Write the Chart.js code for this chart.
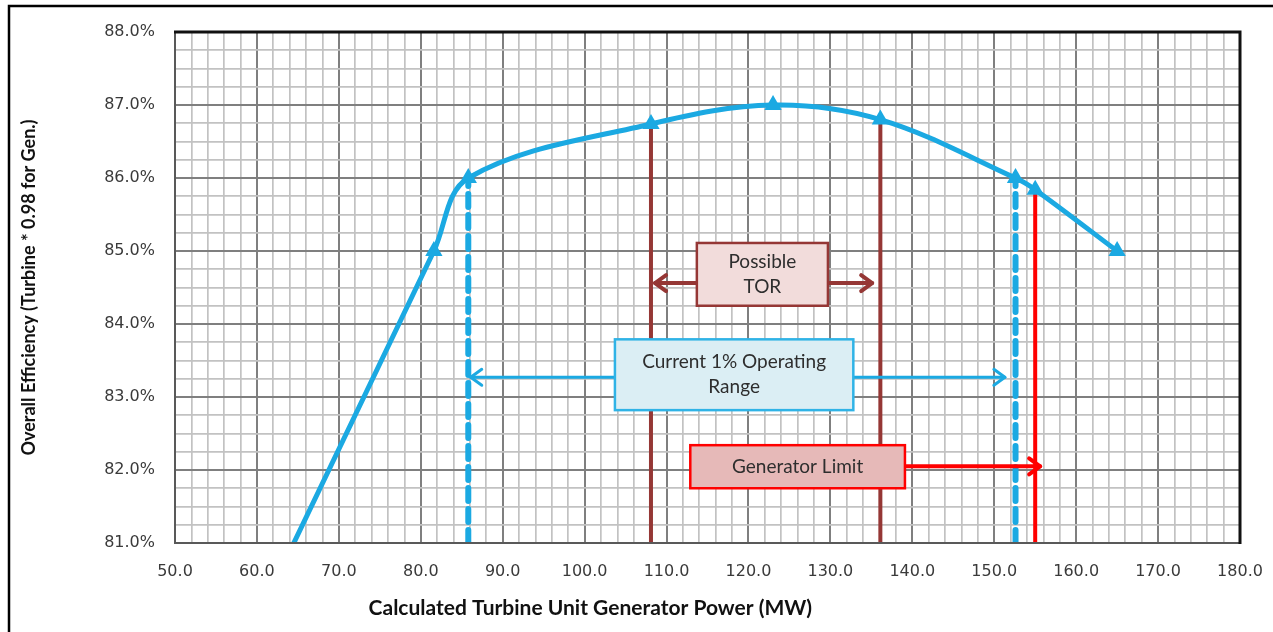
<!DOCTYPE html>
<html>
<head>
<meta charset="utf-8">
<script src="https://cdn.jsdelivr.net/npm/chart.js@4.4.1/dist/chart.umd.min.js"></script>
<style>
    html, body { margin: 0; padding: 0; background: #fff; }
    #wrap { position: relative; width: 1273px; height: 632px; }
</style>
</head>
<body>
<div id="wrap"><canvas id="myChart"></canvas></div>
<script>
// efficiency curve
const powerMW = [64.5, 81.6, 85.8, 108.1, 123.0, 136.1, 152.6, 155.0, 165.0];
const efficiency = [81.0, 85.0, 86.0, 86.74, 87.0, 86.8, 86.0, 85.84, 85.0];

// vertical marker lines (x in MW, top in %)
const rangeLowMW = 85.8, rangeLowTop = 86.0;
const rangeHighMW = 152.6, rangeHighTop = 86.0;
const torLowMW = 108.1, torLowTop = 86.74;
const torHighMW = 136.1, torHighTop = 86.8;
const genLimitMW = 155.0, genLimitTop = 85.84;

const torText = ['Possible', 'TOR'];
const rangeText = ['Current 1% Operating', 'Range'];
const genText = ['Generator Limit'];

const xTitle = 'Calculated Turbine Unit Generator Power (MW)';
const yTitle = 'Overall Efficiency (Turbine * 0.98 for Gen.)';

const BLUE = '#1ba9e2';
const BROWN = '#953735';
const RED = '#ff0000';

// callout boxes, placed in axis units
const notes = [
    { text: torText, x0: 113.7, x1: 129.7, y0: 85.11, y1: 84.25, fill: '#f2dcdb', border: BROWN,
      arrowY: 84.56, arrowWidth: 4, arrows: [[113.7, 108.6], [129.7, 135.1]] },
    { text: rangeText, x0: 103.7, x1: 132.8, y0: 83.79, y1: 82.82, fill: '#dbeef4', border: '#2fb3e6',
      arrowY: 83.27, arrowWidth: 3, arrowColor: BLUE, arrows: [[103.7, 86.1], [132.8, 151.3]] },
    { text: genText, x0: 112.9, x1: 139.1, y0: 82.34, y1: 81.75, fill: '#e6b9b8', border: RED,
      arrowY: 82.05, arrowWidth: 4, arrows: [[139.1, 155.6]] }
];

function vline(mw, top, color, dashed) {
    return {
        data: [{ x: mw, y: 81 }, { x: mw, y: top }],
        borderColor: color,
        borderWidth: dashed ? 6 : 4,
        borderDash: dashed ? [13, 8] : [],
        borderCapStyle: dashed ? 'round' : 'butt',
        pointRadius: 0,
        order: 2
    };
}

function drawArrow(ctx, x0, x1, y, color, width) {
    const dir = x1 > x0 ? 1 : -1;
    ctx.strokeStyle = color;
    ctx.lineWidth = width;
    ctx.beginPath();
    ctx.moveTo(x0, y);
    ctx.lineTo(x1, y);
    ctx.stroke();
    ctx.beginPath();
    ctx.moveTo(x1 - dir * 11, y - 8);
    ctx.lineTo(x1, y);
    ctx.lineTo(x1 - dir * 11, y + 8);
    ctx.stroke();
}

const calloutPlugin = {
    id: 'callouts',
    afterDatasetsDraw(chart) {
        const { ctx, scales: { x, y } } = chart;
        notes.forEach(function (n) {
            ctx.save();
            ctx.lineCap = 'round';
            ctx.lineJoin = 'round';
            const ay = y.getPixelForValue(n.arrowY);
            n.arrows.forEach(function (a) {
                drawArrow(ctx, x.getPixelForValue(a[0]), x.getPixelForValue(a[1]), ay, n.arrowColor || n.border, n.arrowWidth);
            });
            const l = x.getPixelForValue(n.x0), r = x.getPixelForValue(n.x1);
            const t = y.getPixelForValue(n.y0), b = y.getPixelForValue(n.y1);
            ctx.fillStyle = n.fill;
            ctx.fillRect(l, t, r - l, b - t);
            ctx.lineJoin = 'miter';
            ctx.strokeStyle = n.border;
            ctx.lineWidth = 2.5;
            ctx.strokeRect(l, t, r - l, b - t);
            ctx.fillStyle = '#2e2e2e';
            ctx.font = '19px Lato';
            ctx.textAlign = 'center';
            ctx.textBaseline = 'middle';
            const cy = (t + b) / 2 - (n.text.length - 1) * 12.5;
            n.text.forEach(function (line, i) {
                ctx.fillText(line, (l + r) / 2, cy + i * 25);
            });
            ctx.restore();
        });
    },
    afterDraw(chart) {
        const { ctx, chartArea: a, scales: { x } } = chart;
        ctx.save();
        // x axis title, sits left of the plot centre in the original
        ctx.fillStyle = '#111';
        ctx.font = 'bold 21px Lato';
        ctx.textAlign = 'center';
        ctx.textBaseline = 'middle';
        ctx.fillText(xTitle, a.left + (a.right - a.left) * 0.39, x.bottom - 18);
        // plot frame
        ctx.lineWidth = 2;
        ctx.strokeStyle = '#595959';
        ctx.beginPath();
        ctx.moveTo(a.left, a.top);
        ctx.lineTo(a.left, a.bottom);
        ctx.lineTo(a.right, a.bottom);
        ctx.stroke();
        ctx.lineWidth = 3;
        ctx.strokeStyle = '#111';
        ctx.beginPath();
        ctx.moveTo(a.left - 1, a.top);
        ctx.lineTo(a.right, a.top);
        ctx.lineTo(a.right, a.bottom + 1);
        ctx.stroke();
        // outer frame of the picture
        ctx.lineWidth = 2.5;
        ctx.strokeStyle = '#000';
        ctx.beginPath();
        ctx.moveTo(9, 632);
        ctx.lineTo(9, 6);
        ctx.lineTo(1273, 6);
        ctx.stroke();
        ctx.restore();
    }
};

const ctx = document.getElementById('myChart').getContext('2d');
const myChart = new Chart(ctx, {
    type: 'line',
    data: {
        datasets: [
            {
                data: powerMW.map(function (p, i) { return { x: p, y: efficiency[i] }; }),
                borderColor: BLUE,
                backgroundColor: BLUE,
                borderWidth: 5,
                tension: 0.35,
                pointStyle: 'triangle',
                pointRadius: function (c) { return c.dataIndex === 0 ? 0 : 10; },
                pointBorderWidth: 0,
                order: 0
            },
            vline(rangeLowMW, rangeLowTop, BLUE, true),
            vline(torLowMW, torLowTop, BROWN, false),
            vline(torHighMW, torHighTop, BROWN, false),
            vline(rangeHighMW, rangeHighTop, BLUE, true),
            vline(genLimitMW, genLimitTop, RED, false)
        ]
    },
    options: {
        responsive: true,
        maintainAspectRatio: false,
        animation: false,
        layout: { padding: { left: 12, top: 32, right: 33, bottom: 6 } },
        plugins: { legend: { display: false }, tooltip: { enabled: false } },
        scales: {
            x: {
                type: 'linear',
                min: 50,
                max: 180,
                afterFit: function (s) {
                    s.height = 83;
                    s.paddingLeft = 0;
                    s.paddingRight = 0;
                },
                ticks: {
                    stepSize: 2,
                    autoSkip: false,
                    maxRotation: 0,
                    padding: 19,
                    color: '#3a3a3a',
                    font: { family: 'DejaVu Sans', size: 16 },
                    callback: function (v) { return v % 10 === 0 ? v.toFixed(1) : ''; }
                },
                grid: {
                    drawTicks: false,
                    color: function (c) { return c.tick && c.tick.value % 10 === 0 ? '#7f7f7f' : '#c2c2c2'; },
                    lineWidth: function (c) { return c.tick && c.tick.value % 10 === 0 ? 2 : 1.7; }
                },
                border: { display: false },
                title: { display: false, text: xTitle }
            },
            y: {
                min: 81,
                max: 88,
                afterFit: function (s) { s.width = 163; },
                ticks: {
                    stepSize: 0.25,
                    autoSkip: false,
                    padding: 20,
                    color: '#3a3a3a',
                    font: { family: 'DejaVu Sans', size: 16 },
                    callback: function (v) { return Number.isInteger(v) ? v.toFixed(1) + '%' : ''; }
                },
                grid: {
                    drawTicks: false,
                    color: function (c) { return c.tick && Number.isInteger(c.tick.value) ? '#7f7f7f' : '#c2c2c2'; },
                    lineWidth: function (c) { return c.tick && Number.isInteger(c.tick.value) ? 2 : 1.7; }
                },
                border: { display: false },
                title: {
                    display: true,
                    text: yTitle,
                    color: '#111',
                    padding: { top: 6, bottom: 6 },
                    font: { family: 'Lato', size: 18, weight: 'bold' }
                }
            }
        }
    },
    plugins: [calloutPlugin]
});
</script>
</body>
</html>
